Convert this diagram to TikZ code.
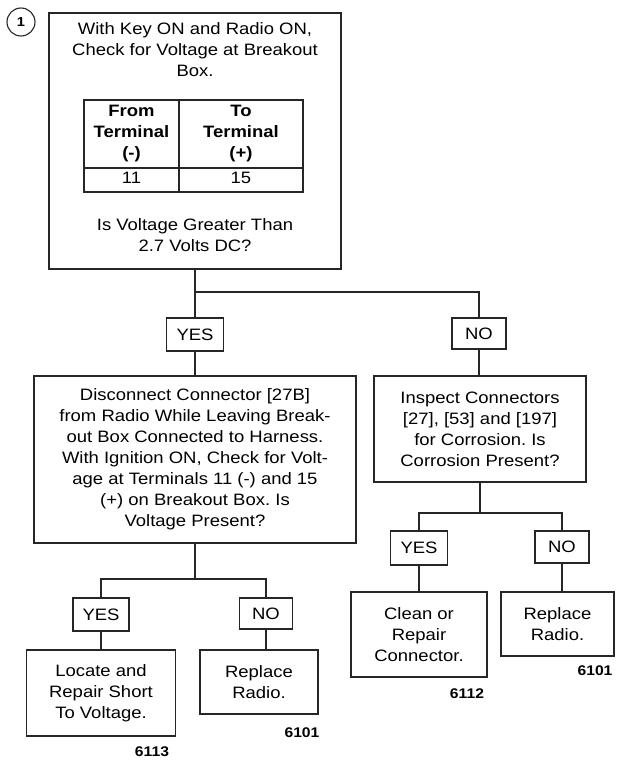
\documentclass[tikz,border=0pt]{standalone}
\usepackage{fontspec}
\setmainfont{Liberation Sans}[FakeStretch=1.12]
\begin{document}
\frenchspacing
\begin{tikzpicture}[x=1pt,y=-1pt,
  line width=1.1pt, draw=black!85,
  every node/.style={inner sep=0pt, outer sep=0pt},
  txt/.style={align=center, font=\fontsize{16.5}{21}\selectfont\frenchspacing},
  box/.style={draw, txt, line width=1.1pt},
  ans/.style={draw, font=\fontsize{16.5}{21}\selectfont, line width=1.1pt},
  tbl/.style={align=center, font=\fontsize{16.5}{21}\selectfont\bfseries},
  code/.style={font=\fontsize{14}{16}\selectfont\bfseries}]
\useasboundingbox (0,0) rectangle (616,763);

% step number
\node[draw, circle, minimum size=28pt, font=\fontsize{13}{15}\selectfont\bfseries] (num) at (21,22) {1};

% top box
\node[draw, minimum width=292pt, minimum height=256pt] (top) at (195,141) {};
\node[txt] (topA) at (195,50) {With Key ON and Radio ON,\\Check for Voltage at Breakout\\Box.};
\node[draw, minimum width=219pt, minimum height=92pt] (table) at (193.5,146) {};
\coordinate (tcolT) at (179,100);
\coordinate (tcolB) at (179,192);
\coordinate (trowL) at (84,168);
\coordinate (trowR) at (303,168);
\draw (tcolT) -- (tcolB);
\draw (trowL) -- (trowR);
\node[tbl] (hFrom) at (131.5,134) {From\\Terminal\\(-)};
\node[tbl] (hTo) at (241,134) {To\\Terminal\\(+)};
\node[txt] (vFrom) at (131.5,178) {11};
\node[txt] (vTo) at (241,178) {15};
\node[txt] (topB) at (195,235) {Is Voltage Greater Than\\2.7 Volts DC?};

% first branch
\coordinate (j1) at (195,292);
\node[ans, minimum width=57pt, minimum height=33pt] (yes1) at (195,334.5) {YES};
\node[ans, minimum width=54pt, minimum height=31pt] (no1) at (479,333.5) {NO};
\draw (top.south) -- (j1) -- (yes1.north);
\draw (j1) -| (no1.north);

\node[box, minimum width=322pt, minimum height=167pt] (lbox) at (195,459.5)
  {Disconnect Connector [27B]\\from Radio While Leaving Break-\\out Box Connected to Harness.\\With Ignition ON, Check for Volt-\\age at Terminals 11 (-) and 15\\(+) on Breakout Box. Is\\Voltage Present?};
\node[box, minimum width=212pt, minimum height=106pt] (rbox) at (480,429)
  {Inspect Connectors\\{}[27], [53] and [197]\\for Corrosion. Is\\Corrosion Present?};
\draw (yes1.south) -- (lbox.north);
\draw (no1.south) -- (no1.south |- rbox.north);

% left sub-branch
\coordinate (j2) at (195,579);
\node[ans, minimum width=56pt, minimum height=33pt] (yes2) at (101,614.5) {YES};
\node[ans, minimum width=53pt, minimum height=31pt] (no2) at (266,613.5) {NO};
\draw (lbox.south) -- (j2);
\draw (j2) -| (yes2.north);
\draw (j2) -| (no2.north);
\node[box, minimum width=149pt, minimum height=86pt] (locate) at (101,693) {Locate and\\Repair Short\\To Voltage.};
\node[box, minimum width=118pt, minimum height=64pt] (repl1) at (259,682) {Replace\\Radio.};
\draw (yes2.south) -- (locate.north);
\draw (no2.south) -- (no2.south |- repl1.north);
\node[code] (c6113) at (152,752) {6113};
\node[code] (c6101a) at (302,733) {6101};

% right sub-branch
\coordinate (j3) at (480,513);
\node[ans, minimum width=57pt, minimum height=34pt] (yes3) at (419,548) {YES};
\node[ans, minimum width=54pt, minimum height=32pt] (no3) at (562,547) {NO};
\draw (rbox.south) -- (j3);
\draw (j3) -| (yes3.north);
\draw (j3) -| (no3.north);
\node[box, minimum width=136pt, minimum height=85pt] (clean) at (419,634.5) {Clean or\\Repair\\Connector.};
\node[box, minimum width=113pt, minimum height=64pt] (repl2) at (557.5,624) {Replace\\Radio.};
\draw (yes3.south) -- (clean.north);
\draw (no3.south) -- (no3.south |- repl2.north);
\node[code] (c6112) at (467,694) {6112};
\node[code] (c6101b) at (595,671) {6101};
\end{tikzpicture}
\end{document}
